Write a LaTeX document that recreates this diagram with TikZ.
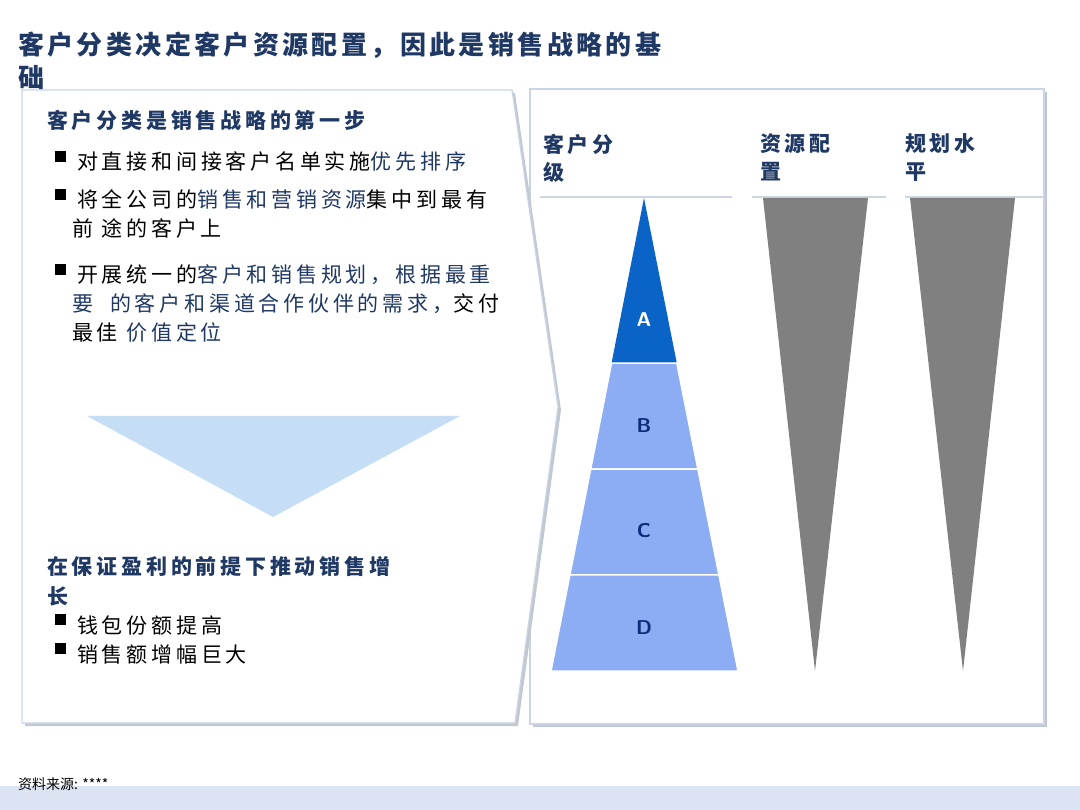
\documentclass[tikz,border=0pt]{standalone}
\usepackage{fontspec}
\setmainfont{Liberation Sans}
\newfontfamily\cjk[LetterSpace=18]{Noto Sans CJK SC}
\newfontfamily\cjktitle[LetterSpace=13]{Noto Sans CJK SC}
\newfontfamily\cjksmall{Noto Sans CJK SC}
\usetikzlibrary{
  calc,        % for tier points
  positioning}
\definecolor{navy}{HTML}{1F3864}
\definecolor{panelline}{HTML}{C9D5E6}
\definecolor{panelshadow}{HTML}{C3C8D0}
\definecolor{ruleline}{HTML}{CCD6E2}
\definecolor{downfill}{HTML}{C5DEF6}
\definecolor{tierdark}{HTML}{0A63C6}
\definecolor{tierlight}{HTML}{8CACF4}
\definecolor{tiertext}{HTML}{0D2C7A}
\definecolor{wedgegray}{HTML}{808080}
\definecolor{band}{HTML}{DCE3F2}
\newcommand\sqbullet{\raisebox{.4em}{\rule{11pt}{11pt}}\hspace{11pt}}
\newcommand\hl[1]{\textcolor{navy}{#1}}
\tikzset{
  panel/.style={draw=panelline, fill=white, line width=1.2pt},
  panel shadow/.style={fill=panelshadow, draw=none, shift={(3,3)}},
  % multi-line nodes: base anchor sits on the last line
  body text/.style={
    anchor=base west, inner sep=0pt, align=left,
    font=\fontsize{21}{29}\selectfont\cjk},
  head text/.style={body text, text=navy, font=\fontsize{21}{30}\selectfont\cjk\bfseries},
  title text/.style={
    anchor=base west, inner sep=0pt, align=left, text=navy,
    font=\fontsize{26}{33}\selectfont\cjktitle\bfseries},
  col head/.style={head text, font=\fontsize{21}{28}\selectfont\cjk\bfseries},
  tier/.style={fill=tierlight, draw=white, line width=1.5pt},
  tier label/.style={font=\fontsize{20}{24}\selectfont\sffamily\bfseries, text=tiertext},
  wedge/.style={fill=wedgegray}
}
\begin{document}
\begin{tikzpicture}[x=1pt, y=-1pt]
\useasboundingbox (0,0) rectangle (1080,810);

% footer band
\fill[band] (0,786) rectangle (1080,810);
\draw[white!90!band, line width=1pt] (0,785) -- (1080,785);
\node[anchor=base west, inner sep=0pt, font=\fontsize{14}{16}\selectfont\cjksmall]
  (source) at (18,789) {资料来源: ****};

% title
\node[title text] (title) at (18,88) {客户分类决定客户资源配置，因此是销售战略的基\\础};

% panels (left one last, its point lies over the right one)
\fill[panel shadow] (530,89) rectangle (1044,724);
\draw[panel] (530,89) rectangle (1044,724);
\fill[panel shadow] (22,90) -- (512,90) -- (558,407) -- (515,723) -- (22,723) -- cycle;
\draw[panel] (22,90) -- (512,90) -- (558,407) -- (515,723) -- (22,723) -- cycle;

% left panel text
\node[head text] (step-head) at (47,129) {客户分类是销售战略的第一步};
\node[body text] (item-1) at (55,170) {\sqbullet 对直接和间接客户名单实施\hl{优先排序}};
\node[body text] (item-2) at (55,237) {\sqbullet 将全公司的\hl{销售和营销资源}集中到最有\\
  \hspace*{17pt}前 途的客户上};
\node[body text] (item-3) at (55,341) {\sqbullet 开展统一的\hl{客户和销售规划，根据最重}\\
  \hspace*{17pt}\hl{要\ \ 的客户和渠道合作伙伴的需求，}交付\\
  \hspace*{17pt}最佳 \hl{价值定位}};

\fill[downfill] (87,416) -- (460,416) -- (273,517) -- cycle;

\node[head text] (growth-head) at (47,604) {在保证盈利的前提下推动销售增\\长};
\node[body text] (item-4) at (55,662) {\sqbullet 钱包份额提高\\\sqbullet 销售额增幅巨大};

% column heads
\node[col head] (col-seg) at (543,181) {客户分\\级};
\node[col head] (col-res) at (760,180) {资源配\\置};
\node[col head] (col-plan) at (905,180) {规划水\\平};
\draw[ruleline, line width=2pt] (540,197) -- (732,197)
  (752,197) -- (886,197) (905,197) -- (1043,197);

% pyramid
\coordinate (apex) at (644,198);
\coordinate (bl) at (551,671);
\coordinate (br) at (738,671);
\foreach \t/\n in {0.349/ab, 0.573/bc, 0.797/cd}{
  \coordinate (\n-l) at ($(apex)!\t!(bl)$);
  \coordinate (\n-r) at ($(apex)!\t!(br)$);
}
\fill[tierdark] (apex) -- (ab-r) -- (ab-l) -- cycle;
\filldraw[tier] (ab-l) -- (ab-r) -- (bc-r) -- (bc-l) -- cycle;
\filldraw[tier] (bc-l) -- (bc-r) -- (cd-r) -- (cd-l) -- cycle;
\filldraw[tier] (cd-l) -- (cd-r) -- (br) -- (bl) -- cycle;
\node[tier label, text=white] (tier-a) at (644,320) {A};
\node[tier label] (tier-b) at (644,426) {B};
\node[tier label] (tier-c) at (644,531) {C};
\node[tier label] (tier-d) at (644,628) {D};

% wedges
\fill[wedge] (763,198) -- (868,198) -- (815,671) -- cycle;
\fill[wedge] (910,198) -- (1015,198) -- (963,671) -- cycle;
\end{tikzpicture}
\end{document}
